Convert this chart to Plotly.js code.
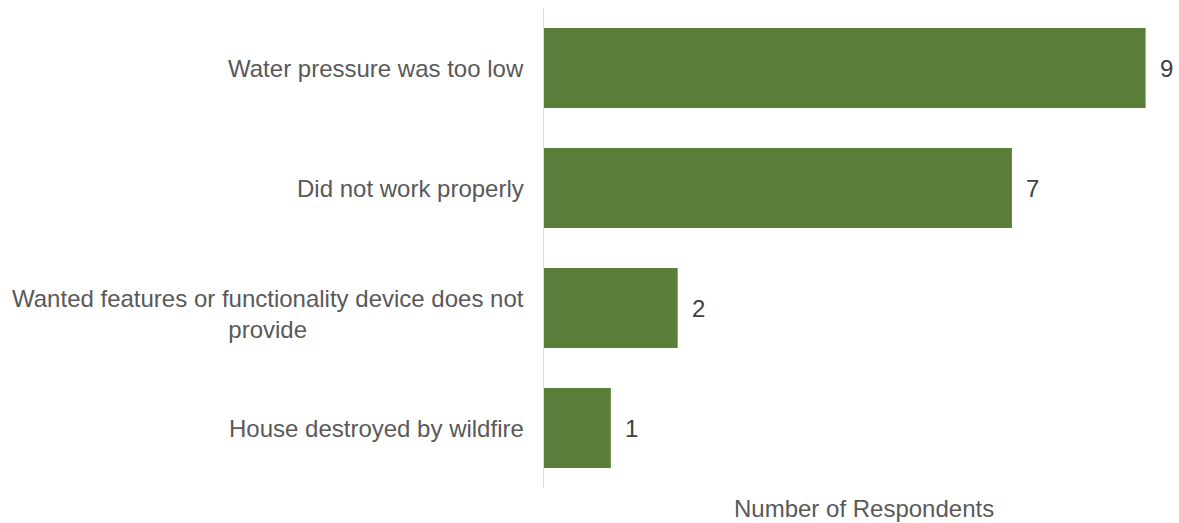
<!DOCTYPE html>
<html>
<head>
<meta charset="utf-8">
<script src="https://cdn.plot.ly/plotly-3.0.1.min.js"></script>
<style>
  html, body { margin: 0; padding: 0; background: #ffffff; }
  #chart { width: 1179px; height: 523px; }
</style>
</head>
<body>
<div id="chart"></div>
<script>
// Reasons respondents gave, top to bottom
const reasons = [
  "Water pressure was too low",
  "Did not work properly",
  "Wanted features or functionality device does not<br>provide",
  "House destroyed by wildfire"
];
const respondents = [9, 7, 2, 1];
const axisTitle = "Number of Respondents";

const barColor = "#5b7e3a";
const labelColor = "#595959";
const valueColor = "#404040";
const fontFamily = "'Liberation Sans', Arial, sans-serif";

const trace = {
  type: "bar",
  orientation: "h",
  x: respondents,
  y: reasons,
  marker: { color: barColor, line: { width: 0 } },
  hoverinfo: "none"
};

// Category labels, centred within their block and right-aligned to the axis;
// wrapped labels sit a little lower, as the original layout does
const categoryNotes = reasons.map(r => ({
  xref: "paper", yref: "y",
  x: 0, y: r,
  text: r,
  showarrow: false,
  xanchor: "right",
  align: "center",
  xshift: -18,
  yshift: r.includes("<br>") ? -6 : 0,
  font: { family: fontFamily, size: 24, color: labelColor }
}));

// Value labels placed just past each bar end
const valueNotes = respondents.map((v, i) => ({
  xref: "x", yref: "y",
  x: v, y: reasons[i],
  text: String(v),
  showarrow: false,
  xanchor: "left",
  xshift: 12,
  font: { family: fontFamily, size: 24, color: valueColor }
}));

const titleNote = {
  xref: "paper", yref: "paper",
  x: 0.5, y: 0,
  text: axisTitle,
  showarrow: false,
  xanchor: "center",
  yanchor: "top",
  xshift: 2,
  yshift: -5,
  font: { family: fontFamily, size: 24, color: labelColor }
};

const layout = {
  width: 1179,
  height: 523,
  margin: { l: 544, r: 0, t: 8, b: 35 },
  paper_bgcolor: "#ffffff",
  plot_bgcolor: "#ffffff",
  showlegend: false,
  bargap: 0.333,
  font: { family: fontFamily, color: labelColor },
  xaxis: {
    range: [0, 9.5],
    showgrid: false,
    zeroline: false,
    showline: false,
    showticklabels: false,
    ticks: ""
  },
  yaxis: {
    type: "category",
    autorange: "reversed",
    showgrid: false,
    zeroline: false,
    showline: true,
    linecolor: "#d9d9d9",
    linewidth: 1,
    showticklabels: false,
    ticks: ""
  },
  annotations: categoryNotes.concat(valueNotes, [titleNote])
};

Plotly.newPlot("chart", [trace], layout, { displayModeBar: false, staticPlot: true });
</script>
</body>
</html>
